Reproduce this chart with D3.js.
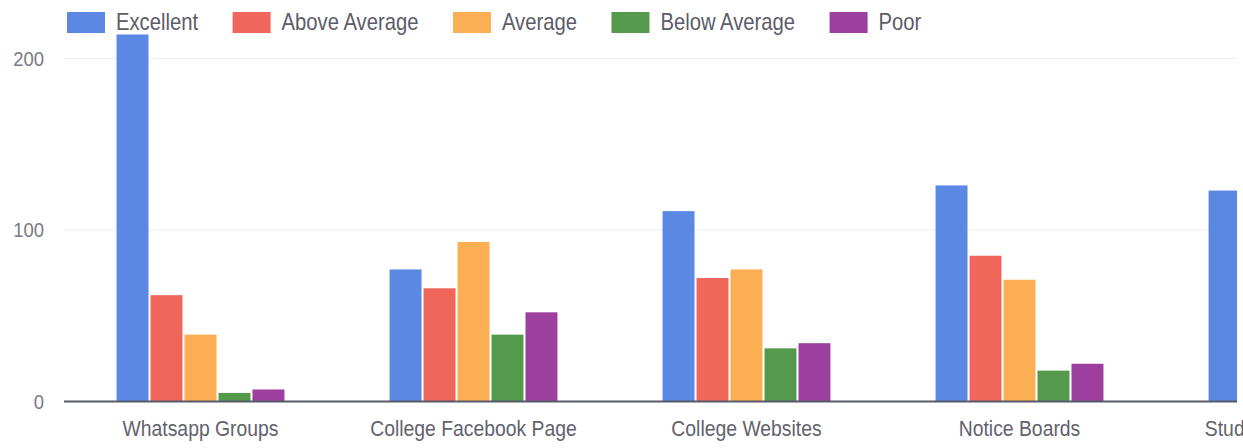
<!DOCTYPE html>
<html>
<head>
<meta charset="utf-8">
<script src="https://cdn.jsdelivr.net/npm/d3@7"></script>
<style>
  html, body { margin: 0; padding: 0; background: #fff; }
  svg { display: block; font-family: "Liberation Sans", Arial, sans-serif; }
</style>
</head>
<body>
<svg id="chart" width="1243" height="448"></svg>
<script>
// ---- data ----
const categories = ["Whatsapp Groups", "College Facebook Page", "College Websites", "Notice Boards", "Student Committees"];
const seriesNames = ["Excellent", "Above Average", "Average", "Below Average", "Poor"];
const excellent    = [214, 77, 111, 126, 123];
const aboveAverage = [62, 66, 72, 85, null];
const average      = [39, 93, 77, 71, null];
const belowAverage = [5, 39, 31, 18, null];
const poor         = [7, 52, 34, 22, null];
const yTicks = [0, 100, 200];
const colors = ["#5b88e3", "#f0665a", "#fcae52", "#55994c", "#9c3f9e"];

const seriesValues = [excellent, aboveAverage, average, belowAverage, poor];
const rows = categories.map((c, i) => ({
  category: c,
  values: seriesNames.map((s, j) => ({ series: s, value: seriesValues[j][i] }))
}));

// ---- layout ----
const svg = d3.select("#chart");
const SX = 0.88; // horizontal text compression
const plotLeft = 64, plotRight = 1237;

const x = d3.scaleBand()
  .domain(categories)
  .range([plotLeft, plotLeft + 5 * 273])
  .paddingInner(0.385)
  .paddingOuter(0.1925);

const xInner = d3.scaleBand()
  .domain(seriesNames)
  .range([0, x.bandwidth()])
  .paddingInner(0.06);

const y = d3.scaleLinear().domain([0, 200]).range([401.5, 58.5]);

svg.append("defs").append("clipPath").attr("id", "plotclip")
  .append("rect").attr("x", 0).attr("y", 0).attr("width", plotRight).attr("height", 448);

const plot = svg.append("g").attr("clip-path", "url(#plotclip)");

// gridlines
plot.append("g").selectAll("line")
  .data(yTicks.filter(t => t > 0))
  .join("line")
  .attr("x1", plotLeft).attr("x2", plotRight)
  .attr("y1", d => y(d)).attr("y2", d => y(d))
  .attr("stroke", "#efeff2").attr("stroke-width", 1);

// bars
const groups = plot.append("g").selectAll("g")
  .data(rows)
  .join("g")
  .attr("transform", d => `translate(${x(d.category)},0)`);

groups.selectAll("rect")
  .data(d => d.values.filter(v => v.value != null))
  .join("rect")
  .attr("x", d => xInner(d.series))
  .attr("width", xInner.bandwidth())
  .attr("y", d => y(d.value))
  .attr("height", d => y(0) - y(d.value))
  .attr("fill", d => colors[seriesNames.indexOf(d.series)]);

// baseline
plot.append("line")
  .attr("x1", plotLeft).attr("x2", plotRight)
  .attr("y1", y(0)).attr("y2", y(0))
  .attr("stroke", "#565a6a").attr("stroke-width", 2);

// y axis
const yAxis = svg.append("g")
  .attr("transform", "translate(52,0)")
  .call(d3.axisLeft(y).tickValues(yTicks).tickSize(0).tickPadding(9).tickFormat(d3.format("d")));
yAxis.select(".domain").remove();
yAxis.selectAll("text")
  .attr("font-size", 21)
  .attr("font-family", "'Liberation Sans', Arial, sans-serif")
  .attr("fill", "#7a7a82")
  .attr("transform", `scale(${SX},1)`);

// x axis
const xAxis = svg.append("g")
  .attr("transform", `translate(0,${y(0)})`)
  .call(d3.axisBottom(x).tickSize(0).tickPadding(19));
xAxis.select(".domain").remove();
xAxis.selectAll(".tick text")
  .attr("font-size", 22)
  .attr("font-family", "'Liberation Sans', Arial, sans-serif")
  .attr("fill", "#62626c")
  .attr("transform", `scale(${SX},1)`);

// legend
const legend = svg.append("g");
let lx = 67;
seriesNames.forEach((s, i) => {
  legend.append("rect")
    .attr("x", lx).attr("y", 12)
    .attr("width", 38).attr("height", 21)
    .attr("fill", colors[i]);
  const tx = lx + 38 + 11;
  const t = legend.append("text")
    .attr("transform", `translate(${tx},30) scale(${SX},1)`)
    .attr("font-size", 23)
    .attr("fill", "#5c5c68")
    .text(s);
  const w = t.node().getComputedTextLength() * SX;
  lx = tx + w + 34.5;
});
</script>
</body>
</html>
